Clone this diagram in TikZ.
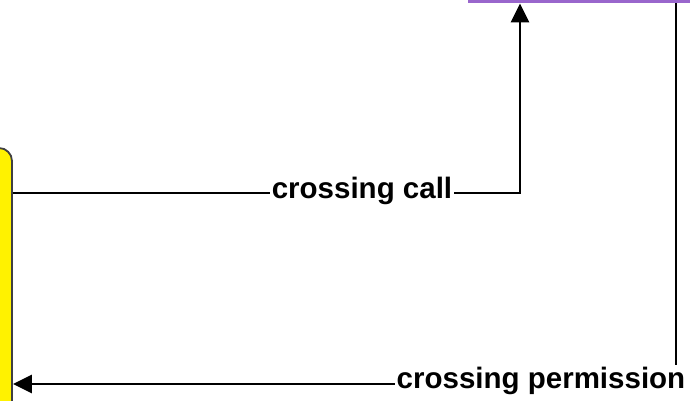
\documentclass[tikz,border=0pt]{standalone}
\usepackage{fontspec}
\setmainfont{Liberation Sans}
\usetikzlibrary{arrows.meta}
\definecolor{lilac}{RGB}{153,102,204}
\tikzstyle{ctl}=[rectangle,draw=lilac,fill=white,line width=3pt,minimum width=251pt,minimum height=32pt]
\tikzstyle{trn}=[rectangle,draw=black!75,fill=yellow,line width=1.8pt,rounded corners=13pt,minimum width=32pt,minimum height=272pt]
\tikzstyle{sig}=[line width=2.8pt,-{Triangle[length=19pt,width=18pt]}]
\tikzstyle{lbl}=[fill=white,inner sep=2pt,font=\fontsize{29.5}{34}\selectfont\bfseries]

\begin{document}
\begin{tikzpicture}[x=1pt,y=-1pt]
\useasboundingbox (0,0) rectangle (690,401);
\clip (0,0) rectangle (690,401);
\node[ctl] (ctrl) at (594.5,-14) {};
\node[trn] (train) at (-4,284) {};
\coordinate (callc) at (520,193);
\coordinate (permc) at (676,384);
\draw[sig] (train.east |- callc) -- (callc) -- (callc |- ctrl.south);
\draw[sig] (ctrl.south -| permc) -- (permc) -- (train.east |- permc);
\node[lbl] (call) at (362,191) {crossing call};
\node[lbl] (perm) at (541,381) {crossing permission};
\end{tikzpicture}
\end{document}
